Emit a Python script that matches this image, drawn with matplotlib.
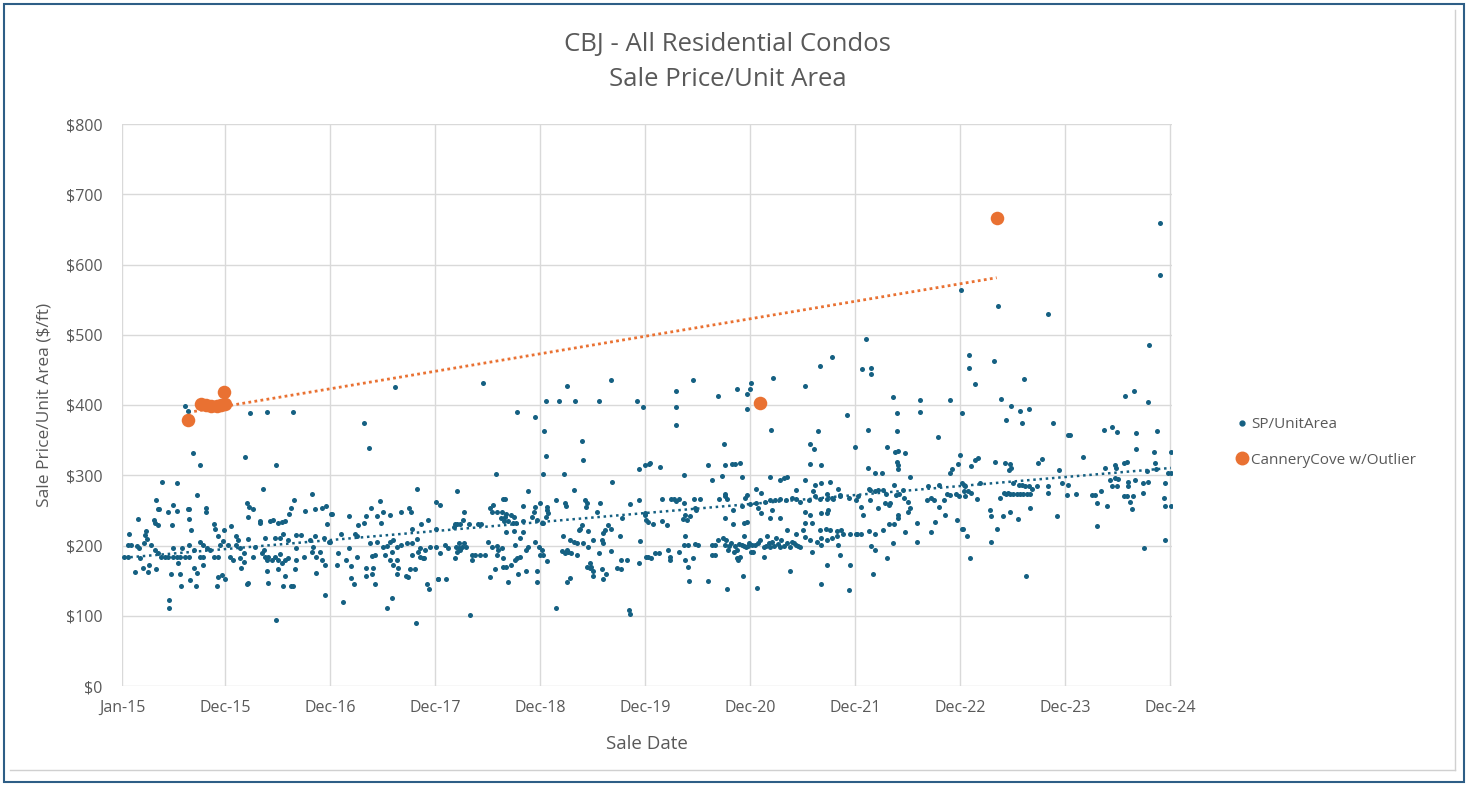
import numpy as np
import matplotlib.pyplot as plt
from matplotlib.lines import Line2D

# (sale date as decimal year, sale price per sq ft), grouped by year
sales_2015 = [
    (2015.60, 398), (2015.63, 391), (2015.68, 332), (2015.74, 314), (2015.38, 291), (2015.52, 289),
    (2015.71, 272), (2015.32, 265), (2015.34, 252), (2015.35, 252), (2015.49, 257), (2015.44, 247),
    (2015.52, 249), (2015.63, 252), (2015.64, 252), (2015.80, 254), (2015.80, 248), (2015.15, 238),
    (2015.30, 237), (2015.31, 232), (2015.34, 229), (2015.48, 229), (2015.64, 238), (2015.88, 231),
    (2015.89, 224), (2015.97, 222), (2015.07, 217), (2015.23, 220), (2015.22, 215), (2015.24, 209),
    (2015.21, 203), (2015.66, 222), (2015.91, 213), (2015.06, 201), (2015.09, 201), (2015.14, 199),
    (2015.16, 196), (2015.02, 184), (2015.06, 184), (2015.17, 182), (2015.28, 201), (2015.31, 194),
    (2015.34, 189), (2015.37, 184), (2015.41, 184), (2015.44, 184), (2015.49, 184), (2015.52, 184),
    (2015.55, 184), (2015.60, 184), (2015.64, 184), (2015.49, 196), (2015.57, 196), (2015.64, 201),
    (2015.74, 205), (2015.77, 201), (2015.69, 194), (2015.74, 184), (2015.77, 184), (2015.81, 196),
    (2015.84, 194), (2015.88, 184), (2015.91, 184), (2015.53, 175), (2015.69, 168), (2015.77, 172),
    (2015.93, 201), (2015.96, 206), (2015.12, 162), (2015.20, 168), (2015.25, 162), (2015.26, 172),
    (2015.32, 166), (2015.47, 159), (2015.55, 159), (2015.56, 142), (2015.65, 151), (2015.70, 142),
    (2015.71, 161), (2015.90, 142), (2015.91, 155), (2015.95, 158), (2015.98, 152), (2015.45, 122),
    (2015.45, 111),
]
sales_2016 = [
    (2016.22, 388), (2016.38, 390), (2016.63, 390), (2016.17, 326), (2016.47, 314), (2016.34, 281),
    (2016.81, 274), (2016.64, 265), (2016.19, 261), (2016.21, 255), (2016.25, 252), (2016.61, 254),
    (2016.59, 245), (2016.74, 249), (2016.84, 252), (2016.90, 254), (2016.94, 256), (2016.99, 245),
    (2016.20, 240), (2016.31, 235), (2016.31, 232), (2016.41, 235), (2016.44, 237), (2016.49, 232),
    (2016.52, 234), (2016.55, 235), (2016.95, 231), (2016.04, 228), (2016.20, 209), (2016.09, 213),
    (2016.10, 208), (2016.36, 210), (2016.46, 210), (2016.53, 217), (2016.50, 210), (2016.58, 208),
    (2016.66, 215), (2016.70, 215), (2016.79, 208), (2016.84, 213), (2016.92, 210), (2016.97, 205),
    (2016.01, 201), (2016.09, 201), (2016.12, 196), (2016.16, 190), (2016.03, 184), (2016.06, 179),
    (2016.12, 182), (2016.16, 177), (2016.27, 198), (2016.35, 194), (2016.33, 189), (2016.36, 184),
    (2016.38, 179), (2016.39, 184), (2016.43, 179), (2016.46, 184), (2016.49, 179), (2016.50, 188),
    (2016.52, 175), (2016.55, 179), (2016.58, 182), (2016.25, 184), (2016.66, 196), (2016.66, 179),
    (2016.73, 184), (2016.81, 191), (2016.82, 198), (2016.85, 184), (2016.89, 191), (2016.90, 179),
    (2016.93, 172), (2016.13, 168), (2016.38, 164), (2016.49, 166), (2016.65, 166), (2016.85, 161),
    (2016.20, 147), (2016.19, 145), (2016.39, 147), (2016.55, 157), (2016.53, 142), (2016.61, 142),
    (2016.63, 142), (2016.93, 129), (2016.47, 94),
]
sales_2017 = [
    (2017.60, 425), (2017.30, 374), (2017.35, 339), (2017.81, 281), (2017.46, 263), (2017.99, 262),
    (2017.00, 245), (2017.16, 242), (2017.37, 254), (2017.32, 242), (2017.43, 242), (2017.49, 247),
    (2017.55, 244), (2017.66, 247), (2017.73, 254), (2017.75, 247), (2017.85, 231), (2017.91, 237),
    (2017.25, 229), (2017.30, 232), (2017.47, 232), (2017.76, 223), (2017.99, 223), (2016.98, 205),
    (2017.09, 217), (2017.22, 216), (2017.24, 214), (2017.36, 203), (2017.43, 205), (2017.49, 198),
    (2017.52, 199), (2017.55, 205), (2017.58, 208), (2017.62, 198), (2017.66, 201), (2017.71, 203),
    (2017.76, 203), (2017.81, 209), (2017.84, 196), (2017.89, 194), (2017.93, 198), (2017.99, 198),
    (2017.06, 190), (2017.16, 196), (2017.13, 179), (2017.24, 184), (2017.38, 185), (2017.41, 186),
    (2017.50, 186), (2017.57, 191), (2017.55, 179), (2017.62, 179), (2017.76, 186), (2017.82, 191),
    (2017.84, 184), (2017.87, 182), (2017.05, 172), (2017.18, 171), (2017.32, 168), (2017.39, 168),
    (2017.58, 172), (2017.63, 168), (2017.74, 166), (2017.79, 166), (2017.88, 182), (2017.18, 154),
    (2017.21, 145), (2017.32, 157), (2017.38, 159), (2017.41, 145), (2017.62, 159), (2017.70, 157),
    (2017.72, 155), (2017.90, 145), (2017.92, 138), (2018.01, 152), (2017.10, 120), (2017.57, 125),
    (2017.52, 111), (2017.80, 89),
]
sales_2018 = [
    (2018.44, 432), (2018.76, 390), (2018.93, 383), (2018.56, 302), (2018.19, 277), (2018.87, 277),
    (2018.03, 258), (2018.53, 258), (2018.50, 254), (2018.63, 266), (2018.65, 266), (2018.82, 256),
    (2018.93, 255), (2018.26, 247), (2018.25, 237), (2018.17, 230), (2018.16, 227), (2018.52, 247),
    (2018.57, 247), (2018.62, 247), (2018.66, 245), (2018.70, 243), (2018.73, 241), (2018.65, 240),
    (2018.68, 235), (2018.72, 232), (2018.61, 239), (2018.64, 235), (2018.92, 248), (2018.90, 241),
    (2018.95, 237), (2019.00, 232), (2018.82, 235), (2018.75, 232), (2018.39, 230), (2018.42, 230),
    (2018.30, 230), (2018.19, 230), (2018.22, 231), (2018.66, 219), (2018.73, 221), (2018.82, 219),
    (2018.79, 210), (2018.03, 190), (2018.08, 201), (2018.10, 197), (2018.18, 198), (2018.21, 203),
    (2018.21, 196), (2018.24, 198), (2018.26, 203), (2018.28, 198), (2018.19, 191), (2018.17, 182),
    (2018.22, 194), (2018.33, 187), (2018.36, 186), (2018.41, 186), (2018.46, 186), (2018.33, 180),
    (2018.49, 205), (2018.52, 198), (2018.57, 199), (2018.58, 194), (2018.62, 196), (2018.63, 182),
    (2018.57, 186), (2018.74, 201), (2018.76, 182), (2018.79, 184), (2018.74, 179), (2018.85, 194),
    (2018.87, 198), (2018.93, 205), (2018.97, 198), (2018.98, 186), (2019.00, 194), (2018.70, 172),
    (2018.66, 170), (2018.63, 169), (2018.55, 166), (2018.85, 164), (2018.95, 164), (2018.77, 159),
    (2018.50, 155), (2018.68, 148), (2018.95, 148), (2018.01, 152), (2018.09, 152), (2018.31, 101),
]
sales_2019 = [
    (2019.24, 427), (2019.66, 435), (2019.04, 405), (2019.16, 405), (2019.31, 405), (2019.54, 405),
    (2019.90, 405), (2019.96, 397), (2019.02, 363), (2019.04, 327), (2019.38, 349), (2019.39, 321),
    (2019.01, 302), (2019.21, 302), (2019.92, 309), (2019.98, 314), (2020.02, 316), (2019.67, 291),
    (2019.30, 279), (2018.98, 261), (2019.13, 265), (2019.22, 261), (2019.23, 256), (2019.41, 265),
    (2019.43, 260), (2019.42, 255), (2019.55, 261), (2019.84, 259), (2019.92, 265), (2019.05, 255),
    (2019.05, 251), (2019.06, 246), (2019.01, 232), (2019.04, 241), (2019.52, 247), (2019.76, 239),
    (2019.98, 243), (2019.99, 236), (2019.38, 229), (2019.36, 224), (2019.35, 222), (2019.63, 229),
    (2019.66, 223), (2019.60, 222), (2019.58, 218), (2019.44, 221), (2019.20, 213), (2019.27, 208),
    (2019.30, 205), (2019.33, 203), (2019.39, 203), (2019.44, 198), (2019.49, 208), (2019.57, 208),
    (2019.58, 203), (2019.74, 213), (2019.93, 207), (2019.01, 186), (2019.05, 178), (2019.19, 192),
    (2019.24, 194), (2019.22, 189), (2019.25, 191), (2019.28, 190), (2019.33, 186), (2019.54, 189),
    (2019.66, 192), (2019.99, 184), (2019.43, 169), (2019.46, 175), (2019.47, 170), (2019.49, 164),
    (2019.49, 157), (2019.46, 168), (2019.57, 166), (2019.61, 159), (2019.58, 152), (2019.71, 168),
    (2019.75, 166), (2019.75, 179), (2019.81, 179), (2019.92, 175), (2019.24, 148), (2019.27, 154),
    (2019.13, 111), (2019.83, 108), (2019.84, 103),
]
sales_2020 = [
    (2020.44, 435), (2020.28, 420), (2020.68, 413), (2020.86, 423), (2020.95, 416), (2020.99, 432),
    (2020.98, 423), (2020.28, 397), (2020.95, 394), (2020.28, 372), (2020.73, 344), (2020.03, 317),
    (2020.12, 312), (2020.58, 314), (2020.74, 314), (2020.81, 316), (2020.84, 316), (2020.89, 318),
    (2020.35, 300), (2020.62, 293), (2020.71, 299), (2020.90, 298), (2020.74, 274), (2020.14, 266),
    (2020.23, 266), (2020.26, 266), (2020.28, 264), (2020.30, 266), (2020.35, 261), (2020.45, 266),
    (2020.50, 266), (2020.69, 266), (2020.76, 266), (2020.74, 270), (2020.93, 267), (2020.95, 272),
    (2020.98, 259), (2020.82, 251), (2020.90, 256), (2020.46, 253), (2020.47, 251), (2020.36, 244),
    (2020.34, 238), (2020.38, 236), (2020.41, 242), (2019.98, 246), (2020.01, 234), (2020.06, 231),
    (2020.14, 235), (2020.19, 229), (2020.74, 239), (2020.82, 231), (2020.92, 232), (2020.95, 234),
    (2020.36, 213), (2020.35, 201), (2020.39, 201), (2020.46, 202), (2020.49, 201), (2020.62, 201),
    (2020.65, 201), (2020.68, 208), (2020.72, 210), (2020.75, 208), (2020.74, 201), (2020.77, 194),
    (2020.83, 191), (2020.86, 194), (2020.90, 201), (2020.94, 198), (2020.97, 203), (2021.00, 201),
    (2020.92, 213), (2020.01, 184), (2020.04, 182), (2020.08, 189), (2020.11, 190), (2020.20, 194),
    (2020.22, 184), (2020.22, 179), (2020.30, 191), (2020.36, 179), (2020.39, 170), (2020.44, 182),
    (2020.62, 186), (2020.65, 186), (2020.86, 182), (2020.89, 184), (2020.87, 179), (2020.99, 191),
    (2020.40, 150), (2020.58, 150), (2020.76, 138), (2020.91, 157),
    (2020.78, 200), (2020.80, 203), (2020.84, 199), (2020.88, 202), (2020.92, 199), (2020.96, 200),
]
sales_2021 = [
    (2021.76, 469), (2021.65, 456), (2021.20, 439), (2021.50, 427), (2021.90, 386), (2021.18, 365),
    (2021.63, 363), (2021.55, 344), (2021.59, 337), (2021.98, 340), (2021.55, 316), (2021.66, 314),
    (2021.17, 298), (2021.27, 293), (2021.30, 296), (2021.33, 298), (2021.50, 293), (2021.60, 286),
    (2021.66, 289), (2021.74, 291), (2021.82, 281), (2021.04, 280), (2021.09, 275), (2021.42, 279),
    (2021.58, 277), (2021.60, 270), (2021.71, 274), (2021.76, 267), (2021.84, 272), (2021.04, 260),
    (2021.12, 262), (2021.17, 265), (2021.22, 265), (2021.27, 266), (2021.32, 265), (2021.38, 267),
    (2021.42, 266), (2021.46, 262), (2021.54, 265), (2021.65, 266), (2021.71, 266), (2021.77, 266),
    (2021.84, 270), (2021.92, 267), (2021.99, 265), (2021.06, 253), (2021.09, 246), (2021.19, 251),
    (2021.17, 239), (2021.27, 239), (2021.50, 248), (2021.55, 243), (2021.66, 246), (2021.72, 251),
    (2021.71, 246), (2021.57, 232), (2021.50, 232), (2021.33, 222), (2021.42, 217), (2021.49, 222),
    (2021.65, 222), (2021.70, 224), (2021.74, 222), (2021.81, 220), (2021.85, 222), (2021.93, 217),
    (2021.99, 217), (2021.03, 201), (2021.08, 208), (2021.14, 213), (2021.19, 205), (2021.23, 210),
    (2021.28, 208), (2021.33, 203), (2021.38, 205), (2021.42, 201), (2021.46, 198), (2021.11, 198),
    (2021.17, 198), (2021.27, 198), (2021.36, 198), (2021.50, 212), (2021.55, 208), (2021.62, 205),
    (2021.66, 210), (2021.71, 208), (2021.76, 210), (2021.81, 213), (2021.87, 217), (2021.01, 191),
    (2021.11, 184), (2021.57, 191), (2021.66, 201), (2021.82, 201), (2021.84, 186), (2021.36, 163),
    (2021.71, 172), (2021.93, 172), (2021.66, 145), (2021.05, 140), (2021.92, 136),
    (2021.06, 203), (2021.13, 200), (2021.16, 203), (2021.21, 200), (2021.25, 202), (2021.30, 200),
    (2021.40, 203), (2021.44, 200),
]
sales_2022 = [
    (2022.99, 564), (2022.09, 494), (2022.05, 451), (2022.13, 453), (2022.13, 444), (2022.34, 411),
    (2022.60, 407), (2022.89, 407), (2022.38, 388), (2022.60, 390), (2023.00, 388), (2022.10, 365),
    (2022.38, 363), (2022.77, 355), (2022.29, 340), (2022.36, 333), (2022.39, 335), (2022.46, 331),
    (2022.38, 319), (2022.39, 315), (2022.39, 309), (2022.10, 311), (2022.17, 303), (2022.24, 303),
    (2022.50, 297), (2022.96, 316), (2022.90, 309), (2022.89, 303), (2023.02, 286), (2022.01, 270),
    (2022.11, 281), (2022.12, 279), (2022.12, 265), (2022.17, 277), (2022.20, 279), (2022.25, 279),
    (2022.28, 274), (2022.27, 260), (2022.31, 260), (2022.35, 286), (2022.37, 272), (2022.40, 274),
    (2022.44, 279), (2022.45, 267), (2022.49, 262), (2022.04, 255), (2022.06, 243), (2022.20, 253),
    (2022.30, 258), (2022.39, 243), (2022.39, 239), (2022.50, 253), (2022.49, 248), (2022.68, 284),
    (2022.70, 267), (2022.73, 265), (2022.67, 265), (2022.78, 286), (2022.78, 255), (2022.83, 265),
    (2022.86, 274), (2022.89, 272), (2022.94, 274), (2022.97, 270), (2023.02, 277), (2022.74, 234),
    (2022.84, 243), (2022.95, 236), (2022.00, 217), (2022.04, 217), (2022.11, 221), (2022.17, 217),
    (2022.25, 222), (2022.30, 231), (2022.35, 231), (2022.46, 219), (2022.57, 232), (2022.70, 219),
    (2023.00, 224), (2022.13, 199), (2022.17, 194), (2022.34, 203), (2022.57, 205), (2022.29, 182),
    (2022.15, 159),
]
sales_2023 = [
    (2023.34, 541), (2023.82, 530), (2023.07, 471), (2023.07, 453), (2023.12, 430), (2023.30, 462),
    (2023.59, 437), (2023.37, 409), (2023.47, 398), (2023.55, 391), (2023.64, 394), (2023.42, 379),
    (2023.57, 374), (2023.87, 374), (2024.01, 358), (2022.98, 329), (2023.09, 313), (2023.12, 321),
    (2023.15, 324), (2023.31, 319), (2023.41, 318), (2023.46, 316), (2023.47, 310), (2023.45, 307),
    (2023.76, 323), (2023.72, 318), (2023.92, 308), (2023.00, 289), (2023.03, 284), (2023.06, 277),
    (2023.09, 275), (2023.14, 266), (2023.17, 289), (2023.03, 270), (2023.36, 268), (2023.40, 275),
    (2023.44, 275), (2023.49, 289), (2023.54, 286), (2023.57, 286), (2023.60, 284), (2023.64, 284),
    (2023.67, 281), (2023.71, 284), (2023.82, 284), (2023.82, 275), (2023.95, 289), (2024.01, 286),
    (2023.42, 274), (2023.46, 274), (2023.49, 274), (2023.52, 274), (2023.55, 274), (2023.58, 274),
    (2023.62, 274), (2023.65, 274), (2023.27, 250), (2023.28, 242), (2023.39, 242), (2023.46, 247),
    (2023.53, 238), (2023.65, 254), (2023.90, 242), (2023.01, 224), (2023.05, 213), (2023.33, 224),
    (2023.28, 205), (2023.08, 182), (2023.61, 157),
]
sales_2024 = [
    (2024.89, 659), (2024.89, 585), (2024.78, 485), (2024.55, 413), (2024.64, 420), (2024.77, 404),
    (2024.03, 358), (2024.35, 365), (2024.43, 369), (2024.48, 362), (2024.66, 360), (2024.86, 363),
    (2024.15, 326), (2024.66, 337), (2024.99, 333), (2024.83, 333), (2024.84, 318), (2024.85, 309),
    (2024.57, 319), (2024.54, 318), (2024.46, 315), (2024.47, 310), (2024.36, 310), (2024.76, 306),
    (2024.96, 303), (2024.41, 293), (2024.46, 296), (2024.49, 294), (2024.43, 284), (2024.48, 284),
    (2024.58, 291), (2024.58, 284), (2024.65, 293), (2024.77, 291), (2024.72, 289), (2024.93, 289),
    (2024.99, 303), (2024.00, 272), (2024.09, 274), (2024.24, 272), (2024.27, 272), (2024.32, 277),
    (2024.29, 261), (2024.38, 256), (2024.54, 270), (2024.57, 270), (2024.63, 270), (2024.60, 262),
    (2024.62, 252), (2024.72, 275), (2024.92, 267), (2024.93, 256), (2024.99, 256), (2024.29, 228),
    (2024.73, 196), (2024.93, 208),
]

# Cannery Cove sales, including the 2023 outlier
cannery_dates = [2015.63, 2015.75, 2015.80, 2015.85, 2015.90, 2015.94, 2015.98, 2015.97, 2021.08, 2023.33]
cannery_prices = [379, 401, 400, 399, 399, 400, 401, 418, 403, 666]

date_ticks = [2015.0, 2015.98, 2016.98, 2017.98, 2018.98, 2019.98, 2020.98, 2021.98, 2022.98, 2023.98, 2024.98]
date_labels = ['Jan-15', 'Dec-15', 'Dec-16', 'Dec-17', 'Dec-18', 'Dec-19', 'Dec-20', 'Dec-21', 'Dec-22', 'Dec-23', 'Dec-24']
price_ticks = [0, 100, 200, 300, 400, 500, 600, 700, 800]

teal = '#156082'
orange = '#E97132'
text_grey = '#595959'
grid_grey = '#D9D9D9'

plt.rcParams['font.family'] = ['Open Sans', 'DejaVu Sans']

all_sales = (sales_2015 + sales_2016 + sales_2017 + sales_2018 + sales_2019
             + sales_2020 + sales_2021 + sales_2022 + sales_2023 + sales_2024)
dates = np.array([d for d, p in all_sales])
prices = np.array([p for d, p in all_sales])
cc_dates = np.array(cannery_dates)
cc_prices = np.array(cannery_prices)

fig = plt.figure(figsize=(14.7, 7.86), dpi=100)
ax = fig.add_axes([122 / 1470, 1 - 686 / 786, 1050 / 1470, 562 / 786])

ax.scatter(dates, prices, s=13, color=teal, linewidths=0, zorder=3)
ax.scatter(cc_dates, cc_prices, s=95, color=orange, linewidths=0, zorder=4)

# linear trendlines over each series
k, b = np.polyfit(dates, prices, 1)
xs = np.array([dates.min(), dates.max()])
ax.plot(xs, k * xs + b, color=teal, lw=1.8, ls=(0, (1, 1.5)), zorder=2)

k2, b2 = np.polyfit(cc_dates, cc_prices, 1)
xs2 = np.array([cc_dates.min(), cc_dates.max()])
ax.plot(xs2, k2 * xs2 + b2, color=orange, lw=2, ls=(0, (1, 1.2)), zorder=2)

ax.set_xlim(2015.0, 2025.0)
ax.set_ylim(0, 800)
ax.set_xticks(date_ticks)
ax.set_xticklabels(date_labels)
ax.set_yticks(price_ticks)
ax.set_yticklabels(['$' + str(v) for v in price_ticks])
ax.tick_params(length=0, labelsize=11.5, colors=text_grey)
ax.tick_params(axis='x', pad=10)
ax.tick_params(axis='y', pad=14)
ax.grid(True, color=grid_grey, lw=1)
ax.set_axisbelow(True)
for sp in ax.spines.values():
    sp.set_visible(False)

ax.set_xlabel('Sale Date', fontsize=13.5, color=text_grey, labelpad=14)
ax.set_ylabel('Sale Price/Unit Area ($/ft)', fontsize=12.5, color=text_grey, labelpad=10)

fig.text(0.495, 1 - 45 / 786, 'CBJ - All Residential Condos', ha='center', va='center',
         fontsize=18.5, color=text_grey)
fig.text(0.495, 1 - 79 / 786, 'Sale Price/Unit Area', ha='center', va='center',
         fontsize=18.5, color=text_grey)

handles = [
    Line2D([], [], ls='', marker='o', ms=3.5, color=teal, label='SP/UnitArea'),
    Line2D([], [], ls='', marker='o', ms=9, color=orange, label='CanneryCove w/Outlier'),
]
fig.legend(handles=handles, loc='upper left', bbox_to_anchor=(1230 / 1470, 1 - 411 / 786),
           frameon=False, fontsize=11, labelcolor=text_grey, handlelength=0.8,
           handletextpad=0.2, labelspacing=1.35, borderaxespad=0)

# chart frame
fig.add_artist(plt.Rectangle((4 / 1470, 4 / 786), 1460 / 1470, 778 / 786, transform=fig.transFigure,
                             fill=False, edgecolor='#2E5E86', lw=1.5))
fig.add_artist(Line2D([1455 / 1470, 1455 / 1470], [16 / 786, 1 - 10 / 786], transform=fig.transFigure,
                      color='#D0D0D0', lw=1))
fig.add_artist(Line2D([10 / 1470, 1455 / 1470], [16 / 786, 16 / 786], transform=fig.transFigure,
                      color='#D0D0D0', lw=1))

fig.savefig('out.png', dpi=100, facecolor='white')
